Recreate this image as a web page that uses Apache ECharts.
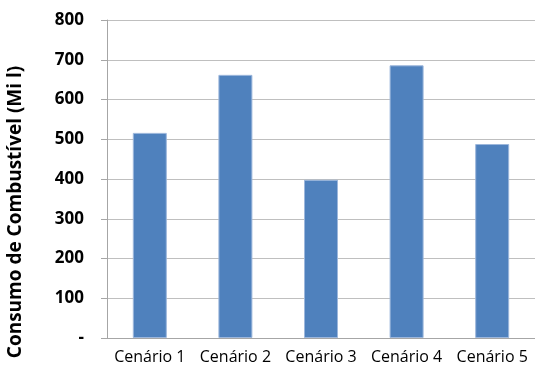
<!DOCTYPE html>
<html>
<head>
<meta charset="utf-8">
<script src="https://cdn.jsdelivr.net/npm/echarts@6/dist/echarts.min.js"></script>
<style>
  html, body { margin: 0; padding: 0; background: #fff; }
  #chart { width: 535px; height: 378px; }
</style>
</head>
<body>
<div id="chart"></div>
<script>
// Fuel consumption per scenario (million litres)
const categories = ['Cenário 1', 'Cenário 2', 'Cenário 3', 'Cenário 4', 'Cenário 5'];
const consumo = [516, 662, 398, 686, 488];
const yTicks = [0, 100, 200, 300, 400, 500, 600, 700, 800];

const FONT = 'Open Sans';

const chart = echarts.init(document.getElementById('chart'), null, { renderer: 'canvas' });

chart.setOption({
  animation: false,
  grid: { left: 107, right: 0, top: 20, bottom: 40, containLabel: false, outerBoundsMode: 'none' },
  xAxis: {
    type: 'category',
    data: categories,
    axisLine: { show: true, lineStyle: { color: '#a6a6a6', width: 1 } },
    axisTick: { show: false },
    axisLabel: {
      interval: 0,
      color: '#000',
      fontFamily: FONT,
      fontSize: 16,
      margin: 11
    }
  },
  yAxis: {
    type: 'value',
    min: yTicks[0],
    max: yTicks[yTicks.length - 1],
    interval: 100,
    name: 'Consumo de Combustível (Mi l)',
    nameLocation: 'middle',
    nameGap: 82,
    nameTextStyle: {
      color: '#000',
      fontFamily: FONT,
      fontSize: 19,
      fontWeight: 'bold',
      padding: [0, 66, 0, 0]
    },
    axisLine: { show: true, lineStyle: { color: '#a6a6a6', width: 1 } },
    axisTick: { show: true, length: 6, inside: false, lineStyle: { color: '#a6a6a6' } },
    splitLine: { show: true, lineStyle: { color: '#bfbfbf', width: 1 } },
    axisLabel: {
      color: '#000',
      fontFamily: FONT,
      fontSize: 17,
      fontWeight: 'bold',
      margin: 23,
      formatter: v => (v === 0 ? '-' : String(v))
    }
  },
  series: [{
    type: 'bar',
    data: consumo,
    barWidth: 34,
    itemStyle: {
      color: '#4f81bd',
      borderColor: '#9db7dc',
      borderWidth: 1
    }
  }]
});
</script>
</body>
</html>
